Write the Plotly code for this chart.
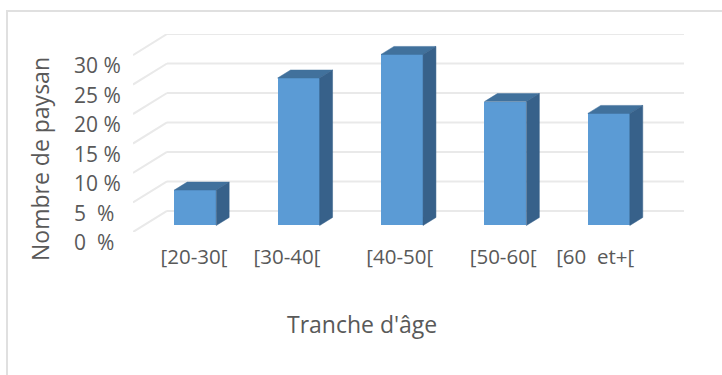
import plotly.graph_objects as go

# Age brackets and the share of farmers in each one
categories = ["[20-30[", "[30-40[", "[40-50[", "[50-60[", "[60  et+["]
shares = [6, 25, 29, 21, 19]
y_ticks = [0, 5, 10, 15, 20, 25, 30]
y_tick_labels = ["0  %", "5  %", "10 %", "15 %", "20 %", "25 %", "30 %"]
label_positions = [0.09, 0.99, 2.08, 3.08, 3.97]

FRONT, TOP, SIDE = "#5b9bd5", "#41719c", "#37618a"
GRID, FRAME, TEXT = "#e9e9e9", "#e0e0e0", "#595959"
FONT = "Open Sans"

# Oblique projection of the depth axis, in data units
DEPTH_X = 0.329
DEPTH_Y = 3.57
BAR_WIDTH = 0.406
NEAR, FAR = 0.31, 0.69
X_MIN, X_MAX = -0.5, 4.5

fig = go.Figure()

xs = [i + NEAR * DEPTH_X for i in range(len(shares))]
base = NEAR * DEPTH_Y

# Front faces of the columns
fig.add_trace(go.Bar(
    x=xs, y=shares, base=[base] * len(shares), width=BAR_WIDTH,
    marker=dict(color=FRONT, line=dict(width=0)),
    showlegend=False, hoverinfo="skip",
))

# Top and side faces, projected from each column's value
step_x = (FAR - NEAR) * DEPTH_X
step_y = (FAR - NEAR) * DEPTH_Y
for x, value in zip(xs, shares):
    left, right = x - BAR_WIDTH / 2, x + BAR_WIDTH / 2
    high = base + value
    fig.add_trace(go.Scatter(
        x=[left, right, right + step_x, left + step_x, left],
        y=[high, high, high + step_y, high + step_y, high],
        mode="lines", fill="toself", fillcolor=TOP,
        line=dict(width=0.5, color=TOP), showlegend=False, hoverinfo="skip",
    ))
    fig.add_trace(go.Scatter(
        x=[right, right + step_x, right + step_x, right, right],
        y=[base, base + step_y, high + step_y, high, base],
        mode="lines", fill="toself", fillcolor=SIDE,
        line=dict(width=0.5, color=SIDE), showlegend=False, hoverinfo="skip",
    ))

# Wall and side gridlines stay under the columns
shapes = []
for v in y_ticks:
    line = dict(color=GRID, width=2)
    shapes.append(dict(type="line", xref="x", yref="y", layer="below",
                       x0=X_MIN, y0=v, x1=X_MIN + DEPTH_X, y1=v + DEPTH_Y, line=line))
    shapes.append(dict(type="line", xref="x", yref="y", layer="below",
                       x0=X_MIN + DEPTH_X, y0=v + DEPTH_Y, x1=X_MAX + DEPTH_X, y1=v + DEPTH_Y, line=line))

# Chart frame, open on the right and at the bottom
PLOT_L, PLOT_R, PLOT_T, PLOT_B = 133, 38, 34, 143
W, H = 722, 375
plot_w, plot_h = W - PLOT_L - PLOT_R, H - PLOT_T - PLOT_B


def paper_x(px):
    return (px - PLOT_L) / plot_w


def paper_y(px):
    return (H - PLOT_B - px) / plot_h


frame = dict(color=FRAME, width=2)
shapes.append(dict(type="line", xref="paper", yref="paper", layer="below",
                   x0=paper_x(6), y0=paper_y(11), x1=paper_x(722), y1=paper_y(11), line=frame))
shapes.append(dict(type="line", xref="paper", yref="paper", layer="below",
                   x0=paper_x(7), y0=paper_y(11), x1=paper_x(7), y1=paper_y(375), line=frame))

annotations = [
    dict(x=paper_x(72), y=v, xref="paper", yref="y", xanchor="left", yanchor="middle",
         yshift=-10, text=label, showarrow=False, font=dict(family=FONT, size=21, color=TEXT))
    for v, label in zip(y_ticks, y_tick_labels)
]
annotations.append(dict(x=paper_x(40), y=paper_y(159), xref="paper", yref="paper",
                        xanchor="center", yanchor="middle",
                        text="Nombre de paysan", textangle=-90, showarrow=False,
                        font=dict(family=FONT, size=23, color=TEXT)))
annotations.append(dict(x=paper_x(362), y=paper_y(324), xref="paper", yref="paper",
                        xanchor="center", yanchor="middle",
                        text="Tranche d'âge", showarrow=False,
                        font=dict(family=FONT, size=23, color=TEXT)))

fig.update_layout(
    width=W, height=H,
    margin=dict(l=PLOT_L, r=PLOT_R, t=PLOT_T, b=PLOT_B, autoexpand=False),
    paper_bgcolor="white", plot_bgcolor="white",
    hovermode=False, bargap=0,
    shapes=shapes, annotations=annotations,
    xaxis=dict(range=[X_MIN, X_MAX + DEPTH_X], showgrid=False, zeroline=False, showline=False,
               tickmode="array", tickvals=label_positions, ticktext=categories,
               ticks="", ticklabelstandoff=10, fixedrange=True,
               tickfont=dict(family=FONT, size=20.5, color=TEXT)),
    yaxis=dict(range=[0, 30 + DEPTH_Y], showgrid=False, zeroline=False, showline=False,
               showticklabels=False, ticks="", fixedrange=True),
)

fig.write_html("out.html", config=dict(displayModeBar=False))
